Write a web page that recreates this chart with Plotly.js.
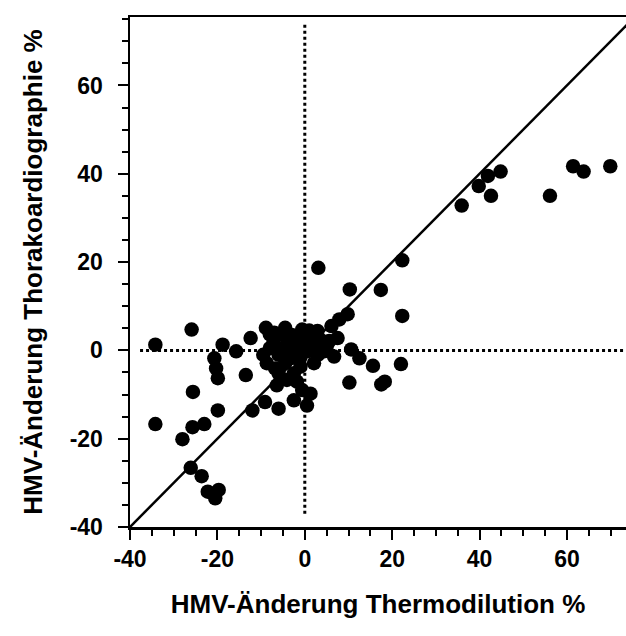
<!DOCTYPE html>
<html>
<head>
<meta charset="utf-8">
<script src="https://cdn.plot.ly/plotly-3.0.1.min.js"></script>
<style>html,body{margin:0;padding:0;background:#fff;}#chart{width:626px;height:636px;}</style>
</head>
<body>
<div id="chart"></div>
<script>
// Thermodilution change (%) vs thoracic cardiography change (%)
const thermoX = [
  35.9, 39.8, 41.9, 44.8, 42.6, 56.1, 61.4, 63.8, 69.9,
  3.1, 10.3, 17.4, 22.3, 22.3, 22.0, 10.2, 17.5, 18.3, 10.6, 12.5, 15.6, 9.8, 7.9, 6.1,
  -34.2, -25.9, -34.2, -28.0, -25.7, -23.0, -19.9, -25.6, -13.5, -12.4, -18.8, -15.7, -20.7, -20.3, -19.9,
  -26.1, -23.6, -22.2, -19.7, -20.5,
  -12.0, -9.1, -6.0, -2.5, 0.5, 1.3, -1.8, -4.1, -6.4, -0.6,
  -8.9, -4.5, -0.6, 2.9, -9.5, -8.7, -6.8, -7.2, -5.3, -4.1, -3.3, -1.8, -0.2, 0.5, 2.1, 3.6, 5.6, 7.5, 6.7, 4.4, 2.1, -1.0, -6.0, -4.5, -8.0, -2.5, 1.0, -3.0,
  -7.0, -5.0, -2.0, 1.0, -6.0, -3.0, -8.0, 3.0, 5.0, -1.0, -4.0
];
const thoraxY = [
  32.8, 37.2, 39.5, 40.5, 35.0, 35.0, 41.7, 40.5, 41.7,
  18.7, 13.8, 13.7, 20.4, 7.8, -3.1, -7.3, -7.7, -7.1, 0.2, -1.8, -3.5, 8.2, 7.0, 5.5,
  1.3, 4.7, -16.7, -20.1, -17.4, -16.7, -13.6, -9.4, -5.6, 2.8, 1.3, -0.2, -1.8, -4.1, -6.3,
  -26.6, -28.5, -32.0, -31.6, -33.5,
  -13.6, -11.7, -13.2, -11.3, -12.5, -9.8, -7.1, -6.7, -7.9, -9.0,
  5.1, 5.1, 4.7, 4.4, -1.0, -2.9, -4.1, 1.7, 0.5, 2.8, -1.8, 0.5, 2.4, -0.2, 1.3, 2.4, 2.1, 2.8, -1.4, -0.2, -2.9, -3.7, -5.2, -2.9, 3.6, -5.2, 4.0, 3.5,
  4.0, 3.5, 3.0, 4.5, -1.0, 0.5, 0.5, -1.0, 0.8, -1.5, -0.5
];
const identityLine = [-40, 80];
const zeroLineX = [-37.7, 80];
const zeroLineY = [-37, 74];
const xTicks = [-40, -20, 0, 20, 40, 60];
const yTicks = [-40, -20, 0, 20, 40, 60];
const tickLabels = ['-40', '-20', '0', '20', '40', '60'];

const font = {family: 'Liberation Sans, Arial, sans-serif', color: '#000'};
const traces = [
  {x: identityLine, y: identityLine, mode: 'lines', line: {color: '#000', width: 2.5}, hoverinfo: 'skip'},
  {x: zeroLineX, y: [0, 0], mode: 'lines', line: {color: '#000', width: 3, dash: 'dot'}, hoverinfo: 'skip'},
  {x: [0, 0], y: zeroLineY, mode: 'lines', line: {color: '#000', width: 3, dash: 'dot'}, hoverinfo: 'skip'},
  {x: thermoX, y: thoraxY, mode: 'markers', marker: {color: '#000', size: 14.5}}
];
const axisCommon = {
  showgrid: false, zeroline: false, showline: true, linecolor: '#000', linewidth: 2.5,
  ticks: 'outside', ticklen: 10, tickwidth: 2, tickcolor: '#000',
  tickfont: Object.assign({size: 23, weight: 'bold'}, font),
  minor: {dtick: 5, ticks: 'outside', ticklen: 6, tickwidth: 2, tickcolor: '#000', showgrid: false}
};
const layout = {
  width: 626, height: 636,
  margin: {l: 130, r: 0, t: 17, b: 109},
  paper_bgcolor: '#fff', plot_bgcolor: '#fff',
  showlegend: false,
  xaxis: Object.assign({}, axisCommon, {
    range: [-40, 73.5], tickvals: xTicks, ticktext: tickLabels, mirror: true, ticklabelstandoff: 0,
    title: {text: 'HMV-Änderung Thermodilution %', font: Object.assign({size: 26, weight: 'bold'}, font), standoff: 24}
  }),
  yaxis: Object.assign({}, axisCommon, {
    range: [-40, 75.5], tickvals: yTicks, ticktext: tickLabels, ticklabelstandoff: 10,
    title: {text: 'HMV-Änderung Thorakoardiographie %', font: Object.assign({size: 26, weight: 'bold'}, font), standoff: 20}
  })
};
Plotly.newPlot('chart', traces, layout, {staticPlot: true, displayModeBar: false});
</script>
</body>
</html>
